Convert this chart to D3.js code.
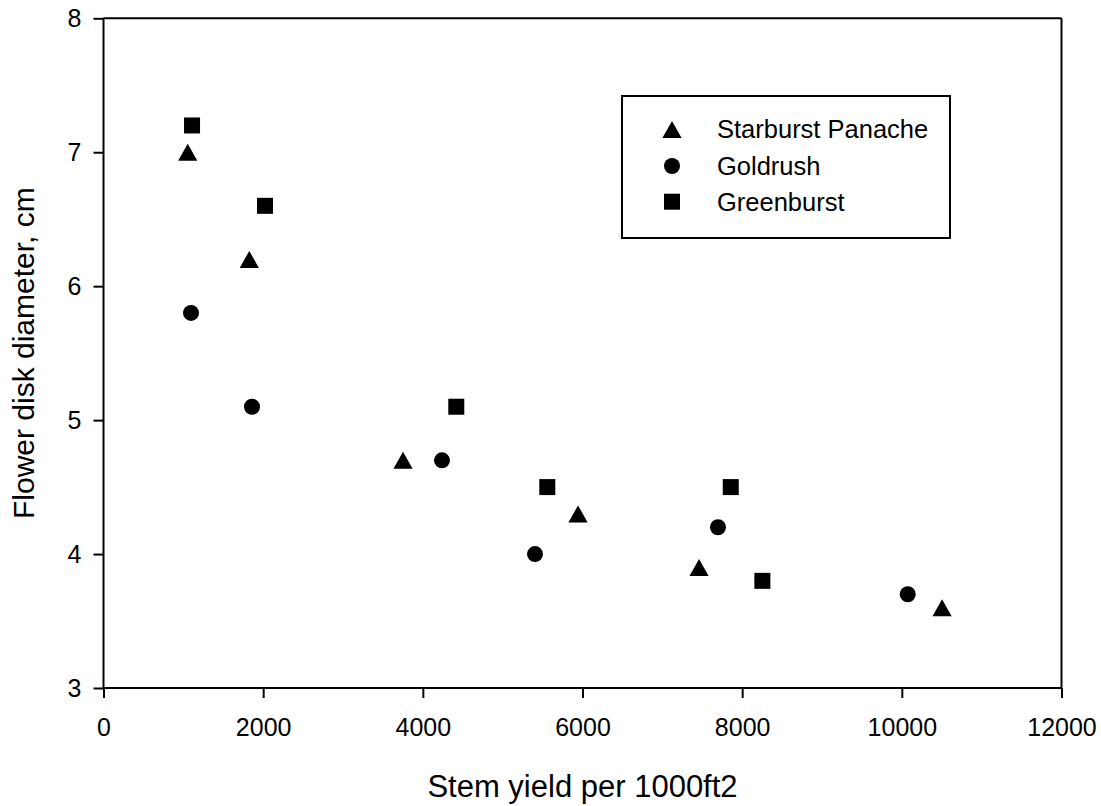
<!DOCTYPE html>
<html>
<head>
<meta charset="utf-8">
<script src="https://cdn.jsdelivr.net/npm/d3@7"></script>
<style>
  body { margin: 0; background: #fff; }
  text { font-family: "Liberation Sans", Arial, sans-serif; fill: #000; }
</style>
</head>
<body>
<script>
// values
let seriesNames = ["Starburst Panache", "Goldrush", "Greenburst"];
let symbolTypes = ["triangle", "circle", "square"];

let starburstX = [1055, 1826, 3752, 5944, 7460, 10504];
let starburstY = [7.0, 6.2, 4.7, 4.3, 3.9, 3.6];

let goldrushX = [1096, 1860, 4240, 5405, 7697, 10074];
let goldrushY = [5.8, 5.1, 4.7, 4.0, 4.2, 3.7];

let greenburstX = [1109, 2023, 4419, 5559, 7857, 8253];
let greenburstY = [7.2, 6.6, 5.1, 4.5, 4.5, 3.8];

let xTicks = [0, 2000, 4000, 6000, 8000, 10000, 12000];
let yTicks = [3, 4, 5, 6, 7, 8];

let svgWidth = 1101;
let svgHeight = 806;

let margin = { left: 103.5, right: 1061.5, top: 18.3, bottom: 688 };

let xScale = d3.scaleLinear()
    .domain([0, 12000])
    .range([margin.left, margin.right]);

let yScale = d3.scaleLinear()
    .domain([3, 8])
    .range([margin.bottom, margin.top]);

let svg = d3.select("body")
    .append("svg")
    .attr("width", svgWidth)
    .attr("height", svgHeight);

let series = [
    { name: seriesNames[0], type: symbolTypes[0], xs: starburstX, ys: starburstY },
    { name: seriesNames[1], type: symbolTypes[1], xs: goldrushX, ys: goldrushY },
    { name: seriesNames[2], type: symbolTypes[2], xs: greenburstX, ys: greenburstY }
];

// draw a marker shape centred at 0,0
function drawMarker(g, type) {
    if (type == "triangle") {
        g.append("path").attr("d", "M0,-8.5L9.6,8.5L-9.6,8.5Z").attr("fill", "#000");
    } else if (type == "circle") {
        g.append("circle").attr("r", 8).attr("fill", "#000");
    } else {
        g.append("rect").attr("x", -8).attr("y", -8).attr("width", 16).attr("height", 16).attr("fill", "#000");
    }
}

// frame: top and right lines
svg.append("line")
    .attr("x1", margin.left).attr("x2", margin.right)
    .attr("y1", margin.top).attr("y2", margin.top)
    .attr("stroke", "#000").attr("stroke-width", 2);
svg.append("line")
    .attr("x1", margin.right).attr("x2", margin.right)
    .attr("y1", margin.top).attr("y2", margin.bottom)
    .attr("stroke", "#000").attr("stroke-width", 2);

let xAxis = d3.axisBottom(xScale)
    .tickValues(xTicks)
    .tickSize(10)
    .tickPadding(20)
    .tickFormat(d3.format("d"));

let yAxis = d3.axisLeft(yScale)
    .tickValues(yTicks)
    .tickSize(10)
    .tickPadding(12)
    .tickFormat(d3.format("d"));

let gx = svg.append("g")
    .attr("transform", "translate(0," + margin.bottom + ")")
    .call(xAxis);

let gy = svg.append("g")
    .attr("transform", "translate(" + margin.left + ",0)")
    .call(yAxis);

[gx, gy].forEach(function (g) {
    g.select(".domain").attr("stroke-width", 2);
    g.selectAll(".tick line").attr("stroke-width", 2);
    g.selectAll(".tick text")
        .style("font-family", "'Liberation Sans', Arial, sans-serif")
        .style("font-size", "25px")
        .attr("fill", "#000");
});
gx.select(".domain").attr("d", "M" + margin.left + ",0H" + margin.right);
gy.select(".domain").attr("d", "M0," + margin.bottom + "V" + margin.top);

// axis titles
svg.append("text")
    .attr("x", (margin.left + margin.right) / 2)
    .attr("y", 797)
    .attr("text-anchor", "middle")
    .style("font-size", "31px")
    .text("Stem yield per 1000ft2");

svg.append("text")
    .attr("transform", "translate(34," + ((margin.top + margin.bottom) / 2) + ") rotate(-90)")
    .attr("text-anchor", "middle")
    .style("font-size", "30px")
    .text("Flower disk diameter, cm");

// points
series.forEach(function (s) {
    let pts = svg.append("g").attr("class", s.name);
    s.xs.forEach(function (xv, i) {
        let g = pts.append("g")
            .attr("transform", "translate(" + xScale(xv) + "," + yScale(s.ys[i]) + ")");
        drawMarker(g, s.type);
    });
});

// legend
let legend = svg.append("g").attr("transform", "translate(622,96)");
legend.append("rect")
    .attr("width", 328).attr("height", 142)
    .attr("fill", "none").attr("stroke", "#000").attr("stroke-width", 2);

let legendRows = [33.5, 70, 105.7];
series.forEach(function (s, i) {
    let row = legend.append("g").attr("transform", "translate(50," + legendRows[i] + ")");
    drawMarker(row.append("g"), s.type);
    row.append("text")
        .attr("x", 45)
        .attr("dy", "0.35em")
        .style("font-size", "25.5px")
        .text(s.name);
});
</script>
</body>
</html>
